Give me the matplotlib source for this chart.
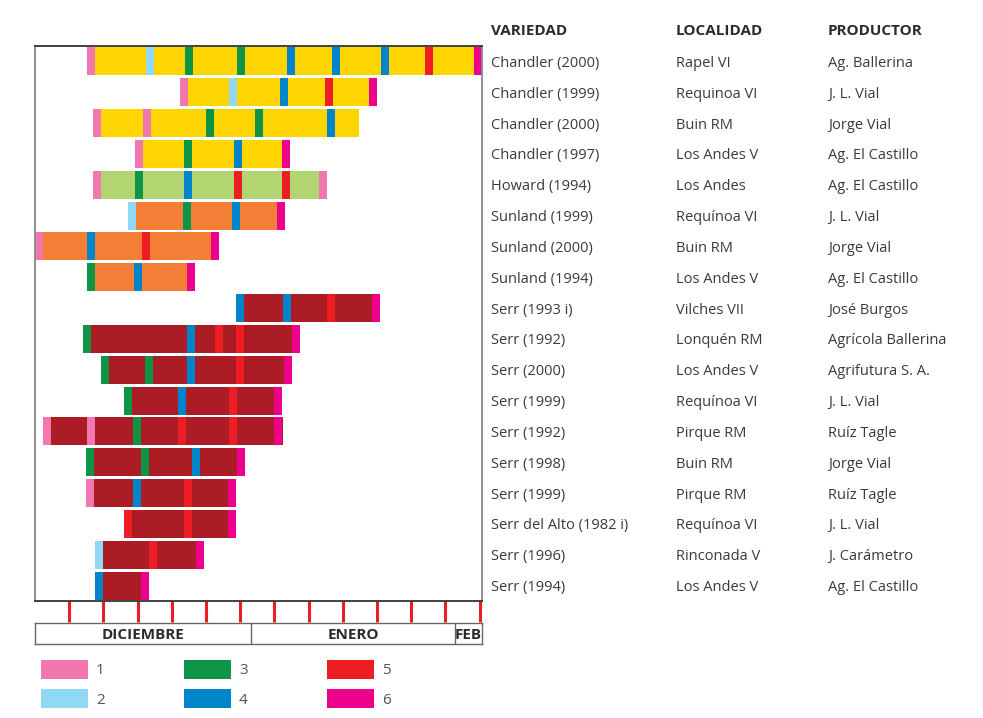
import matplotlib
matplotlib.use("Agg")
import matplotlib.pyplot as plt
from matplotlib.patches import Rectangle
from matplotlib import transforms

plt.rcParams['font.family'] = ['Open Sans', 'DejaVu Sans']

# dias contados desde el 1 de diciembre
variedad = ['Chandler (2000)', 'Chandler (1999)', 'Chandler (2000)', 'Chandler (1997)',
            'Howard (1994)', 'Sunland (1999)', 'Sunland (2000)', 'Sunland (1994)',
            'Serr (1993 i)', 'Serr (1992)', 'Serr (2000)', 'Serr (1999)', 'Serr (1992)',
            'Serr (1998)', 'Serr (1999)', 'Serr del Alto (1982 i)', 'Serr (1996)', 'Serr (1994)']
localidad = ['Rapel VI', 'Requinoa VI', 'Buin RM', 'Los Andes V', 'Los Andes',
             'Requínoa VI', 'Buin RM', 'Los Andes V', 'Vilches VII', 'Lonquén RM',
             'Los Andes V', 'Requínoa VI', 'Pirque RM', 'Buin RM', 'Pirque RM',
             'Requínoa VI', 'Rinconada V', 'Los Andes V']
productor = ['Ag. Ballerina', 'J. L. Vial', 'Jorge Vial', 'Ag. El Castillo', 'Ag. El Castillo',
             'J. L. Vial', 'Jorge Vial', 'Ag. El Castillo', 'José Burgos', 'Agrícola Ballerina',
             'Agrifutura S. A.', 'J. L. Vial', 'Ruíz Tagle', 'Jorge Vial', 'Ruíz Tagle',
             'J. L. Vial', 'J. Carámetro', 'Ag. El Castillo']
cultivar = ['Chandler'] * 4 + ['Howard'] + ['Sunland'] * 3 + ['Serr'] * 10

marca_dia = [
    [7.6, 16.2, 21.9, 29.5, 36.8, 43.4, 50.6, 57.0, 64.2],
    [21.2, 28.4, 35.8, 42.4, 48.8],
    [8.5, 15.8, 25.0, 32.2, 42.7],
    [14.6, 21.8, 29.1, 36.1],
    [8.5, 14.6, 21.8, 29.1, 36.1, 41.5],
    [13.6, 21.6, 28.8, 35.4],
    [0.0, 7.6, 15.6, 25.7],
    [7.6, 14.5, 22.2],
    [29.4, 36.3, 42.7, 49.3],
    [7.0, 22.2, 26.3, 29.4, 37.6],
    [9.6, 16.1, 22.2, 29.4, 36.4],
    [13.0, 20.9, 28.4, 34.9],
    [1.2, 7.6, 14.3, 20.9, 28.4, 34.9],
    [7.5, 15.5, 23.0, 29.5],
    [7.5, 14.3, 21.8, 28.2],
    [13.0, 21.8, 28.2],
    [8.8, 16.7, 23.5],
    [8.8, 15.5],
]
marca_tipo = [
    [1, 2, 3, 3, 4, 4, 4, 5, 6],
    [1, 2, 4, 5, 6],
    [1, 1, 3, 3, 4],
    [1, 3, 4, 6],
    [1, 3, 4, 5, 5, 1],
    [2, 3, 4, 6],
    [1, 4, 5, 6],
    [3, 4, 6],
    [4, 4, 5, 6],
    [3, 4, 5, 5, 6],
    [3, 3, 4, 5, 6],
    [3, 4, 5, 6],
    [1, 1, 3, 5, 5, 6],
    [3, 3, 4, 6],
    [1, 4, 5, 6],
    [5, 5, 6],
    [2, 5, 6],
    [4, 6],
]
fin = [65.4, 50.0, 47.4, 37.3, 42.7, 36.6, 26.8, 23.4, 50.4, 38.7,
       37.6, 36.1, 36.3, 30.7, 29.4, 29.4, 24.7, 16.7]

meses = ['DICIEMBRE', 'ENERO', 'FEB']
limites_mes = [0, 31.6, 61.4, 65.35]
ticks_dia = list(range(5, 66, 5))
etapas = ['1', '2', '3', '4', '5', '6']

color_cultivar = {'Chandler': '#FFD500', 'Howard': '#B2D571',
                  'Sunland': '#F37F36', 'Serr': '#AB1C24'}
color_etapa = {1: '#F277B0', 2: '#8FD8F6', 3: '#0E9447',
               4: '#0085CA', 5: '#EE1D23', 6: '#EC008C'}
ancho_marca = 1.17
alto = 0.91
texto = '#3a3a3a'

W, H = 983, 718
fig = plt.figure(figsize=(W / 100, H / 100), dpi=100)
ax = fig.add_axes([35 / W, 1 - 601 / H, 447 / W, 555 / H])

for i in range(len(variedad)):
    ini = marca_dia[i][0]
    ax.barh(i, fin[i] - ini, left=ini, height=alto,
            color=color_cultivar[cultivar[i]], linewidth=0)
    for d, t in zip(marca_dia[i], marca_tipo[i]):
        ax.barh(i, ancho_marca, left=d, height=alto, color=color_etapa[t], linewidth=0)

ax.set_xlim(0, 65.35)
ax.set_ylim(len(variedad) - 0.5, -0.5)
ax.set_yticks([])
ax.set_xticks(ticks_dia)
ax.set_xticklabels([])
ax.tick_params(axis='x', direction='out', length=15, width=2.2, color='#EE1D23')
for s in ['left', 'right']:
    ax.spines[s].set_color('#888888')
    ax.spines[s].set_linewidth(1.3)
for s in ['top', 'bottom']:
    ax.spines[s].set_color('#333333')
    ax.spines[s].set_linewidth(1.3)

# franja de meses
axm = fig.add_axes([35 / W, 1 - 644 / H, 447 / W, 21 / H])
axm.set_xlim(0, 65.35)
axm.set_ylim(0, 1)
axm.set_xticks([])
axm.set_yticks([])
for s in axm.spines.values():
    s.set_color('#666666')
    s.set_linewidth(1)
for b in limites_mes[1:-1]:
    axm.axvline(b, color='#666666', lw=1)
for m, a, b in zip(meses, limites_mes[:-1], limites_mes[1:]):
    axm.text((a + b) / 2, 0.45, m, ha='center', va='center', fontsize=11,
             fontweight='bold', color='#2b2b2b')

# tabla de datos a la derecha
baja = transforms.ScaledTranslation(0, -2 / 100, fig.dpi_scale_trans)
tr = transforms.blended_transform_factory(fig.transFigure, ax.transData) + baja
columnas = [('VARIEDAD', variedad, 491), ('LOCALIDAD', localidad, 676),
            ('PRODUCTOR', productor, 828)]
for titulo, valores, x in columnas:
    fig.text(x / W, 1 - 31 / H, titulo, ha='left', va='center', fontsize=11,
             fontweight='bold', color='#2b2b2b')
    for i, v in enumerate(valores):
        fig.text(x / W, i, v, transform=tr, ha='left', va='center',
                 fontsize=10.5, color=texto)

# leyenda de etapas
for k, et in enumerate(etapas):
    col, fila = k // 2, k % 2
    x0 = 41 + col * 143
    y0 = 660 + fila * 29
    fig.add_artist(Rectangle((x0 / W, 1 - (y0 + 19) / H), 47 / W, 19 / H,
                             transform=fig.transFigure, color=color_etapa[k + 1], lw=0))
    fig.text((x0 + 55) / W, 1 - (y0 + 11) / H, et, ha='left', va='center',
             fontsize=11, color='#555555')

fig.savefig('out.png', dpi=100)
